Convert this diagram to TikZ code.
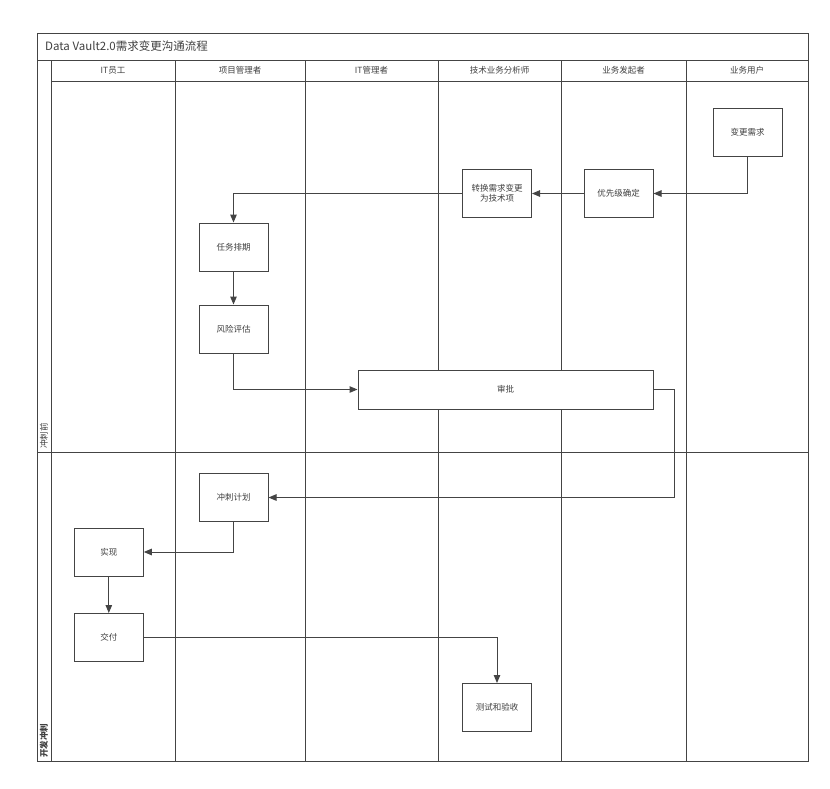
\documentclass[tikz,border=0pt]{standalone}
\usepackage{fontspec}
\setmainfont{Noto Sans CJK SC}
\usetikzlibrary{arrows.meta}
\definecolor{ln}{HTML}{444444}
\definecolor{tx}{HTML}{404040}
\begin{document}
\begin{tikzpicture}[x=1pt,y=-1pt,
  frame/.style={draw=ln,line width=1pt},
  stepbox/.style={draw=ln,line width=1pt,fill=white,minimum width=69pt,minimum height=48pt,inner sep=0pt,align=center,text=tx,font=\fontsize{8.5}{10}\selectfont},
  hdr/.style={text=tx,font=\fontsize{8.5}{10}\selectfont,inner sep=0pt},
  arr/.style={draw=ln,line width=1pt,-{Triangle[length=8pt,width=6.5pt]}},
  lanelbl/.style={rotate=90,anchor=west,inner sep=0pt,text=tx,font=\fontsize{8.5}{10}\selectfont}]
\useasboundingbox (0,0) rectangle (830,788);
\fill[white] (0,0) rectangle (830,788);
% frame
\draw[frame] (37,33) rectangle (808,761);
\draw[frame] (37,60) -- (808,60);
\draw[frame] (51,81) -- (808,81);
\draw[frame] (37,452) -- (808,452);
\foreach \x in {51,175,305,438,561,686}{\draw[frame] (\x,60) -- (\x,761);}
% title
\node[anchor=west,inner sep=0pt,text=tx,font=\fontsize{11.5}{13}\selectfont] (title) at (45,46.5) {Data Vault2.0需求变更沟通流程};
% headers
\node[hdr] (h1) at (113,70.5) {IT员工};
\node[hdr] (h2) at (240,70.5) {项目管理者};
\node[hdr] (h3) at (371.5,70.5) {IT管理者};
\node[hdr] (h4) at (499.5,70.5) {技术业务分析师};
\node[hdr] (h5) at (623.5,70.5) {业务发起者};
\node[hdr] (h6) at (747,70.5) {业务用户};
% lane labels
\node[lanelbl] (l1) at (44,449) {冲刺前};
\node[lanelbl,font=\fontsize{8.5}{10}\selectfont\bfseries] (l2) at (44,758) {开发冲刺};
% nodes
\node[stepbox] (req) at (747.5,132) {变更需求};
\node[stepbox] (prio) at (618.5,193.5) {优先级确定};
\node[stepbox] (conv) at (497,193.5) {转换需求变更\\为技术项};
\node[stepbox] (sched) at (233.5,247) {任务排期};
\node[stepbox] (risk) at (233.5,329) {风险评估};
\node[stepbox,minimum width=295pt,minimum height=39pt] (appr) at (505.5,389.5) {审批};
\node[stepbox] (plan) at (233.5,497.5) {冲刺计划};
\node[stepbox] (impl) at (108.8,552) {实现};
\node[stepbox] (deliv) at (108.8,637.5) {交付};
\node[stepbox] (test) at (497,707.5) {测试和验收};
% connectors
\draw[arr] (req.south) |- (prio.east);
\draw[arr] (prio.west) -- (conv.east);
\draw[arr] (conv.west) -| (sched.north);
\draw[arr] (sched.south) -- (risk.north);
\draw[arr] (risk.south) |- (appr.west);
\draw[arr] (appr.east) -- ++(21,0) |- (plan.east);
\draw[arr] (plan.south) |- (impl.east);
\draw[arr] (impl.south) -- (deliv.north);
\draw[arr] (deliv.east) -| (test.north);
\end{tikzpicture}
\end{document}
